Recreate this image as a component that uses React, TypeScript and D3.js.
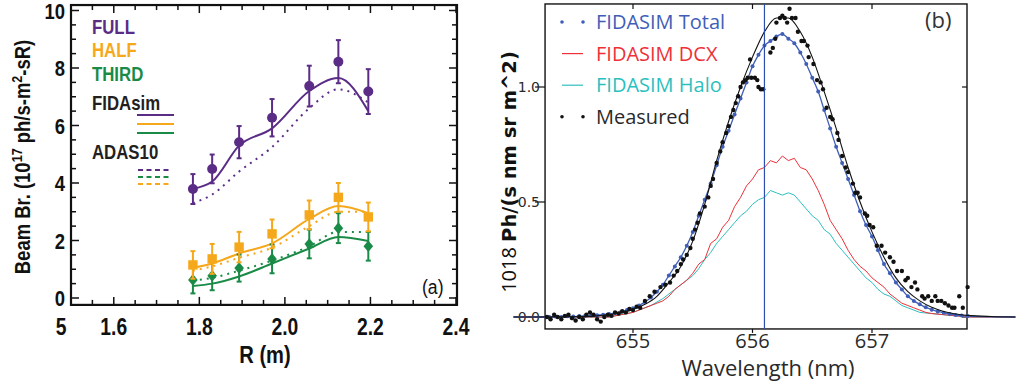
import * as d3 from 'd3';

// ---------- panel (a) data ----------
const R = [1.785, 1.83, 1.893, 1.97, 2.057, 2.125, 2.195];
const fullMeas = [3.79, 4.49, 5.42, 6.27, 7.37, 8.22, 7.18];
const fullErr = [0.52, 0.5, 0.56, 0.65, 0.71, 0.75, 0.78];
const fullFida = [3.8, 4.05, 5.3, 5.9, 7.2, 7.65, 6.5];
const fullAdas = [3.3, 3.6, 4.4, 5.25, 6.6, 7.26, 6.8];
const halfMeas = [1.15, 1.36, 1.77, 2.23, 2.89, 3.5, 2.82];
const halfErr = [0.48, 0.52, 0.53, 0.5, 0.5, 0.5, 0.5];
const halfFida = [1.05, 1.2, 1.55, 1.9, 2.75, 3.2, 2.95];
const halfAdas = [0.95, 1.1, 1.4, 1.75, 2.5, 3.0, 3.0];
const thirdMeas = [0.63, 0.77, 1.04, 1.36, 1.88, 2.43, 1.8];
const thirdErr = [0.47, 0.5, 0.47, 0.5, 0.5, 0.52, 0.5];
const thirdFida = [0.42, 0.5, 0.75, 1.2, 1.72, 2.12, 1.98];
const thirdAdas = [0.6, 0.7, 0.95, 1.3, 1.8, 2.3, 2.3];

const yTicksA = [0, 2, 4, 6, 8, 10];
const xTicksA = [1.5, 1.6, 1.8, 2.0, 2.2, 2.4];
const xTickLabelsA = ['5', '1.6', '1.8', '2.0', '2.2', '2.4'];

// ---------- panel (b) data: [wavelength nm, value] ----------
const fidaTotal: [number, number][] = [
  [654.0, 0], [654.3, 0], [654.35, 0.002], [654.4, 0], [654.45, 0.003], [654.5, 0.002], [654.55, 0.004],
  [654.6, 0.005], [654.65, 0.006], [654.7, 0.008], [654.75, 0.01], [654.8, 0.013], [654.85, 0.017],
  [654.9, 0.022], [654.95, 0.03], [655.0, 0.038], [655.05, 0.05], [655.1, 0.065], [655.15, 0.085],
  [655.2, 0.11], [655.25, 0.14], [655.3, 0.18], [655.35, 0.22], [655.4, 0.26], [655.45, 0.31],
  [655.5, 0.37], [655.55, 0.44], [655.6, 0.51], [655.65, 0.58], [655.7, 0.66], [655.75, 0.74],
  [655.8, 0.81], [655.85, 0.88], [655.9, 0.95], [655.95, 1.02], [656.0, 1.09], [656.05, 1.14],
  [656.1, 1.18], [656.15, 1.2], [656.2, 1.22], [656.25, 1.23], [656.3, 1.21], [656.35, 1.19],
  [656.4, 1.15], [656.45, 1.1], [656.5, 1.04], [656.55, 0.98], [656.6, 0.9], [656.65, 0.82],
  [656.7, 0.74], [656.75, 0.67], [656.8, 0.6], [656.85, 0.53], [656.9, 0.46], [656.95, 0.4],
  [657.0, 0.35], [657.05, 0.29], [657.1, 0.23], [657.15, 0.19], [657.2, 0.15], [657.25, 0.12],
  [657.3, 0.09], [657.35, 0.07], [657.4, 0.055], [657.45, 0.042], [657.5, 0.032], [657.55, 0.024],
  [657.6, 0.018], [657.65, 0.013], [657.7, 0.009], [657.75, 0.006], [657.8, 0.004], [658.2, 0],
];

const fidaDcx: [number, number][] = [
  [654.0, 0], [654.8, 0], [654.85, 0.005], [654.9, 0.01], [654.95, 0.015], [655.0, 0.02], [655.05, 0.03],
  [655.1, 0.04], [655.15, 0.05], [655.2, 0.06], [655.25, 0.07], [655.3, 0.09], [655.35, 0.12],
  [655.4, 0.14], [655.45, 0.16], [655.5, 0.19], [655.55, 0.23], [655.6, 0.25], [655.65, 0.32],
  [655.7, 0.34], [655.75, 0.39], [655.8, 0.42], [655.85, 0.48], [655.9, 0.52], [655.95, 0.57],
  [656.0, 0.6], [656.05, 0.64], [656.1, 0.65], [656.15, 0.68], [656.2, 0.67], [656.25, 0.7],
  [656.3, 0.68], [656.35, 0.69], [656.4, 0.65], [656.45, 0.64], [656.5, 0.6], [656.55, 0.55],
  [656.6, 0.49], [656.65, 0.42], [656.7, 0.38], [656.75, 0.34], [656.8, 0.29], [656.85, 0.25],
  [656.9, 0.22], [656.95, 0.2], [657.0, 0.17], [657.05, 0.15], [657.1, 0.13], [657.15, 0.1],
  [657.2, 0.08], [657.25, 0.06], [657.3, 0.05], [657.35, 0.04], [657.4, 0.03], [657.45, 0.02],
  [657.5, 0.015], [657.6, 0.01], [657.7, 0.005], [657.8, 0], [658.2, 0],
];

const fidaHalo: [number, number][] = [
  [654.0, 0], [654.8, 0], [654.9, 0.01], [655.0, 0.02], [655.05, 0.03], [655.1, 0.04], [655.15, 0.05],
  [655.2, 0.065], [655.25, 0.08], [655.3, 0.1], [655.35, 0.12], [655.4, 0.14], [655.45, 0.16],
  [655.5, 0.18], [655.55, 0.21], [655.6, 0.25], [655.65, 0.28], [655.7, 0.32], [655.75, 0.35],
  [655.8, 0.38], [655.85, 0.41], [655.9, 0.44], [655.95, 0.46], [656.0, 0.49], [656.05, 0.51],
  [656.1, 0.52], [656.15, 0.55], [656.2, 0.54], [656.25, 0.53], [656.3, 0.54], [656.35, 0.53],
  [656.4, 0.5], [656.45, 0.47], [656.5, 0.44], [656.55, 0.42], [656.6, 0.38], [656.65, 0.36],
  [656.7, 0.32], [656.75, 0.29], [656.8, 0.26], [656.85, 0.23], [656.9, 0.2], [656.95, 0.17],
  [657.0, 0.15], [657.05, 0.12], [657.1, 0.1], [657.15, 0.09], [657.2, 0.07], [657.25, 0.05],
  [657.3, 0.04], [657.4, 0.02], [657.5, 0.015], [657.6, 0.01], [657.7, 0.005], [657.8, 0], [658.2, 0],
];

const fitLine: [number, number][] = [
  [654.0, 0], [654.5, 0.001], [654.7, 0.005], [654.85, 0.014], [655.0, 0.033], [655.1, 0.055],
  [655.2, 0.09], [655.3, 0.15], [655.4, 0.22], [655.5, 0.33], [655.6, 0.49], [655.7, 0.68],
  [655.8, 0.85], [655.9, 1.0], [656.0, 1.13], [656.1, 1.24], [656.2, 1.3], [656.3, 1.3],
  [656.4, 1.24], [656.5, 1.13], [656.6, 0.98], [656.7, 0.82], [656.8, 0.65], [656.9, 0.5],
  [657.0, 0.37], [657.1, 0.26], [657.2, 0.17], [657.3, 0.11], [657.4, 0.07], [657.5, 0.042],
  [657.6, 0.024], [657.7, 0.013], [657.8, 0.007], [658.0, 0.002], [658.2, 0],
];

const measured: [number, number][] = [
  [654.28, 0.0], [654.31, -0.01], [654.34, 0.01], [654.37, 0.0], [654.4, -0.01], [654.43, 0.005],
  [654.46, 0.01], [654.49, -0.005], [654.52, -0.015], [654.55, 0.0], [654.58, -0.01], [654.61, 0.01],
  [654.64, 0.02], [654.67, 0.01], [654.7, -0.01], [654.73, -0.02], [654.76, 0.0], [654.79, 0.01],
  [654.82, 0.005], [654.85, 0.02], [654.88, 0.015], [654.91, 0.025], [654.94, 0.02], [654.97, 0.035],
  [655.0, 0.03], [655.03, 0.045], [655.06, 0.04], [655.1, 0.07], [655.14, 0.09], [655.18, 0.11],
  [655.23, 0.13], [655.27, 0.14], [655.31, 0.15], [655.34, 0.18], [655.37, 0.2], [655.4, 0.23],
  [655.42, 0.25], [655.45, 0.27], [655.48, 0.3], [655.5, 0.34], [655.52, 0.38], [655.54, 0.41],
  [655.56, 0.45], [655.6, 0.48], [655.63, 0.52], [655.65, 0.57], [655.67, 0.6], [655.7, 0.67],
  [655.73, 0.72], [655.75, 0.76], [655.78, 0.8], [655.8, 0.83], [655.82, 0.87], [655.84, 0.9],
  [655.86, 0.93], [655.88, 0.96], [655.9, 1.0], [655.92, 1.02], [655.94, 1.03], [655.96, 1.04],
  [655.98, 1.12], [655.99, 1.04], [656.02, 1.04], [656.04, 1.03], [656.05, 1.0], [656.07, 0.99],
  [656.09, 0.99], [656.15, 1.15], [656.17, 1.17], [656.19, 1.21], [656.2, 1.28], [656.23, 1.3],
  [656.25, 1.31], [656.27, 1.3], [656.29, 1.28], [656.31, 1.34], [656.33, 1.3], [656.36, 1.3],
  [656.38, 1.24], [656.41, 1.2], [656.43, 1.2], [656.46, 1.18], [656.47, 1.13], [656.51, 1.1],
  [656.54, 1.03], [656.57, 1.02], [656.59, 0.99], [656.62, 0.91], [656.65, 0.87], [656.67, 0.86],
  [656.71, 0.8], [656.72, 0.77], [656.75, 0.7], [656.78, 0.65], [656.8, 0.63], [656.84, 0.58],
  [656.86, 0.54], [656.88, 0.54], [656.9, 0.52], [656.94, 0.45], [656.96, 0.44], [656.98, 0.4],
  [657.01, 0.39], [657.04, 0.31], [657.08, 0.31], [657.11, 0.28], [657.15, 0.26], [657.18, 0.24],
  [657.21, 0.2], [657.25, 0.2], [657.28, 0.16], [657.3, 0.17], [657.33, 0.13], [657.36, 0.15],
  [657.38, 0.12], [657.42, 0.09], [657.44, 0.08], [657.47, 0.09], [657.5, 0.07], [657.53, 0.09],
  [657.55, 0.07], [657.58, 0.07], [657.61, 0.06], [657.64, 0.05], [657.67, 0.04], [657.69, 0.04],
  [657.73, 0.09], [657.76, 0.04], [657.8, 0.13],
];

const markerWavelength = 656.1;
const xTicksB = [655, 656, 657];
const yTicksB = [0, 0.5, 1.0];

const PURPLE = '#5b2c86';
const ORANGE = '#f6a81c';
const GREEN = '#1a8b47';
const BLUE = '#3f5eb8';
const RED = '#ee3138';
const CYAN = '#2cbfbf';

const BOLD_SANS = "'Liberation Sans', Arial, sans-serif";
const SANS = "'Open Sans', 'Noto Sans', sans-serif";
const DEJAVU = "'DejaVu Sans', sans-serif";
const SQUEEZE = 0.84;

// condensed bold text for panel (a): the original uses a narrow Helvetica
function NText({ x, y, anchor = 'start', size, fill = '#111', weight = 'bold', children }: any) {
  return (
    <text
      transform={`translate(${x},${y}) scale(${SQUEEZE},1)`}
      textAnchor={anchor}
      fontSize={size}
      fill={fill}
      fontWeight={weight}
      fontFamily={BOLD_SANS}
    >
      {children}
    </text>
  );
}

function PanelA() {
  const x = d3.scaleLinear().domain([1.5, 2.4]).range([71, 456]);
  const y = d3.scaleLinear().domain([0, 10]).range([298, 10.5]);
  const left = x(1.5);
  const right = x(2.4) + 1;
  const top = y(10.19);
  const bottom = y(-0.24);

  const solid = d3
    .line<number>()
    .x((_, i) => x(R[i]))
    .y((d) => y(d))
    .curve(d3.curveMonotoneX);

  const minorY = d3.range(0, 10.01, 0.5);
  const minorX = d3.range(1.5, 2.401, 0.05);

  const series = [
    { meas: thirdMeas, err: thirdErr, fida: thirdFida, adas: thirdAdas, color: GREEN, shape: 'diamond' },
    { meas: halfMeas, err: halfErr, fida: halfFida, adas: halfAdas, color: ORANGE, shape: 'square' },
    { meas: fullMeas, err: fullErr, fida: fullFida, adas: fullAdas, color: PURPLE, shape: 'circle' },
  ];

  return (
    <g>
      {/* ticks */}
      {minorY.map((v) => {
        const major = Math.abs(v % 2) < 1e-6;
        const len = major ? 8 : 5;
        return (
          <g key={'yt' + v} stroke="#111" strokeWidth={1.5}>
            <line x1={left} x2={left + len} y1={y(v)} y2={y(v)} />
            <line x1={right - len} x2={right} y1={y(v)} y2={y(v)} />
          </g>
        );
      })}
      {minorX.map((v) => {
        const tenths = v * 10;
        const major = Math.abs(tenths - Math.round(tenths)) < 1e-6 && Math.round(tenths) % 2 === 0;
        const len = major ? 8 : 5;
        return (
          <g key={'xt' + v} stroke="#111" strokeWidth={1.5}>
            <line x1={x(v)} x2={x(v)} y1={bottom} y2={bottom - len} />
            <line x1={x(v)} x2={x(v)} y1={top} y2={top + len} />
          </g>
        );
      })}
      <rect x={left} y={top} width={right - left} height={bottom - top} fill="none" stroke="#111" strokeWidth={2.2} />

      {yTicksA.map((v) => (
        <NText key={'yl' + v} x={left - 6} y={y(v) + 8} anchor="end" size={22}>
          {v}
        </NText>
      ))}
      {xTicksA.map((v, i) => (
        <NText key={'xl' + v} x={x(v) + (xTickLabelsA[i] === '5' ? -10 : 0)} y={335} anchor="middle" size={23}>
          {xTickLabelsA[i]}
        </NText>
      ))}
      <NText x={265} y={363} anchor="middle" size={24}>
        R (m)
      </NText>
      <text
        transform={`translate(30,157) rotate(-90) scale(${SQUEEZE},1)`}
        textAnchor="middle"
        fontSize={22}
        fontWeight="bold"
        fontFamily={BOLD_SANS}
        fill="#111"
      >
        Beam Br. (10
        <tspan fontSize={15} dy={-8}>17</tspan>
        <tspan dy={8}> ph/s-m</tspan>
        <tspan fontSize={15} dy={-8}>2</tspan>
        <tspan dy={8}>-sR)</tspan>
      </text>

      {/* model curves */}
      {series.map((s) => (
        <g key={'c' + s.color} fill="none" stroke={s.color}>
          <path d={solid(s.adas) ?? ''} strokeWidth={2} strokeDasharray="2 5" />
          <path d={solid(s.fida) ?? ''} strokeWidth={2} />
        </g>
      ))}

      {/* measurements */}
      {series.map((s) => (
        <g key={'m' + s.color} fill={s.color} stroke={s.color}>
          {s.meas.map((v, i) => {
            const cx = x(R[i]);
            const cy = y(v);
            const y1 = y(v + s.err[i]);
            const y2 = y(v - s.err[i]);
            return (
              <g key={i}>
                <line x1={cx} x2={cx} y1={y1} y2={y2} strokeWidth={2} />
                <line x1={cx - 2.5} x2={cx + 2.5} y1={y1} y2={y1} strokeWidth={2} />
                <line x1={cx - 2.5} x2={cx + 2.5} y1={y2} y2={y2} strokeWidth={2} />
                {s.shape === 'circle' && <circle cx={cx} cy={cy} r={5} stroke="none" />}
                {s.shape === 'square' && <rect x={cx - 4.7} y={cy - 4.7} width={9.4} height={9.4} stroke="none" />}
                {s.shape === 'diamond' && (
                  <path d={`M${cx},${cy - 5.8}L${cx + 4.8},${cy}L${cx},${cy + 5.8}L${cx - 4.8},${cy}Z`} stroke="none" />
                )}
              </g>
            );
          })}
        </g>
      ))}

      {/* legend */}
      <NText x={92} y={34} size={20} fill={PURPLE}>FULL</NText>
      <NText x={92} y={57} size={20} fill={ORANGE}>HALF</NText>
      <NText x={92} y={81} size={20} fill={GREEN}>THIRD</NText>
      <NText x={92} y={110} size={20} fill="#231f20">FIDAsim</NText>
      {[PURPLE, ORANGE, GREEN].map((c, i) => (
        <line key={'lf' + c} x1={137} x2={174} y1={115 + i * 9} y2={115 + i * 9} stroke={c} strokeWidth={2.2} />
      ))}
      <NText x={92} y={159} size={20} fill="#231f20">ADAS10</NText>
      {[PURPLE, GREEN, ORANGE].map((c, i) => (
        <line
          key={'la' + c}
          x1={138}
          x2={172}
          y1={170 + i * 7}
          y2={170 + i * 7}
          stroke={c}
          strokeWidth={2}
          strokeDasharray="5 3.5"
        />
      ))}
      <NText x={422} y={294} size={21} weight="normal">(a)</NText>
    </g>
  );
}

function PanelB() {
  const x = d3.scaleLinear().domain([655, 657]).range([633, 872]);
  const y = d3.scaleLinear().domain([0, 1]).range([317, 87]);
  const left = x(654.264);
  const right = x(657.795);
  const top = y(1.361);
  const bottom = y(-0.052);

  const line = d3
    .line<[number, number]>()
    .x((d) => x(d[0]))
    .y((d) => y(d[1]))
    .curve(d3.curveMonotoneX);
  const linear = d3
    .line<[number, number]>()
    .x((d) => x(d[0]))
    .y((d) => y(d[1]));

  const inFrame = (d: [number, number]) => d[0] >= 654.26 && d[0] <= 657.8;

  const legend = [
    { label: 'FIDASIM Total', color: BLUE, kind: 'dots' },
    { label: 'FIDASIM DCX', color: RED, kind: 'line' },
    { label: 'FIDASIM Halo', color: CYAN, kind: 'line' },
    { label: 'Measured', color: '#111', kind: 'dots' },
  ];

  return (
    <g>
      <rect x={left} y={top} width={right - left} height={bottom - top} fill="none" stroke="#111" strokeWidth={1.4} />
      {xTicksB.map((v) => (
        <g key={'xt' + v} stroke="#111" strokeWidth={1.2}>
          <line x1={x(v)} x2={x(v)} y1={bottom} y2={bottom + 4} />
          <line x1={x(v)} x2={x(v)} y1={top} y2={top + 5} />
        </g>
      ))}
      {yTicksB.map((v) => (
        <g key={'yt' + v} stroke="#111" strokeWidth={1.2}>
          <line x1={left - 10} x2={left} y1={y(v)} y2={y(v)} />
          <line x1={right - 5} x2={right} y1={y(v)} y2={y(v)} />
        </g>
      ))}
      {xTicksB.map((v) => (
        <text key={'xl' + v} x={x(v)} y={348} textAnchor="middle" fontFamily={SANS} fontSize={20} fill="#2a2a2a">
          {v}
        </text>
      ))}
      {yTicksB.map((v) => (
        <text key={'yl' + v} x={540} y={y(v)} dy="0.36em" textAnchor="end" fontFamily={DEJAVU} fontSize={14} fill="#2a2a2a">
          {d3.format('.1f')(v)}
        </text>
      ))}
      <text x={768} y={376} textAnchor="middle" fontFamily={SANS} fontSize={22} fill="#2a2a2a">
        Wavelength (nm)
      </text>
      <text transform="translate(516,172) rotate(-90)" textAnchor="middle" fill="#111">
        <tspan fontFamily={SANS} fontSize={20}>1018 </tspan>
        <tspan fontFamily={DEJAVU} fontWeight="bold" fontSize={19.5}>Ph/(s nm sr m^2)</tspan>
      </text>

      {/* spectra */}
      <path d={linear(fidaHalo) ?? ''} fill="none" stroke={CYAN} strokeWidth={1} />
      <path d={linear(fidaDcx) ?? ''} fill="none" stroke={RED} strokeWidth={1} />
      <path d={line(fidaTotal) ?? ''} fill="none" stroke={BLUE} strokeWidth={1.3} />
      {fidaTotal.filter(inFrame).map((d, i) => (
        <circle key={'tb' + i} cx={x(d[0])} cy={y(d[1])} r={2} fill={BLUE} />
      ))}
      <path d={line(fitLine) ?? ''} fill="none" stroke="#111" strokeWidth={1.1} />
      {measured.map((d, i) => (
        <circle key={'ms' + i} cx={x(d[0])} cy={y(d[1])} r={2.2} fill="#111" />
      ))}
      <line x1={x(markerWavelength)} x2={x(markerWavelength)} y1={top} y2={bottom} stroke="#2f4fb0" strokeWidth={1.2} />

      {/* legend */}
      {legend.map((l, i) => {
        const cy = 22 + i * 31.6;
        return (
          <g key={l.label}>
            {l.kind === 'dots' ? (
              <g fill={l.color}>
                <circle cx={562} cy={cy} r={1.8} />
                <circle cx={583} cy={cy} r={1.8} />
              </g>
            ) : (
              <line x1={562} x2={583} y1={cy} y2={cy} stroke={l.color} strokeWidth={1.2} />
            )}
            <text x={596} y={cy} dy="0.36em" fontFamily={SANS} fontSize={20} fill={l.color === '#111' ? '#2a2a2a' : l.color}>
              {l.label}
            </text>
          </g>
        );
      })}
      <text x={925} y={28} fontFamily={SANS} fontSize={22} fill="#333">(b)</text>
    </g>
  );
}

export default function App() {
  return (
    <svg
      width={1018}
      height={381}
      viewBox="0 0 1018 381"
      style={{ position: 'absolute', left: 0, top: 0, background: '#fff' }}
    >
      <rect width={1018} height={381} fill="#fff" />
      <PanelA />
      <PanelB />
    </svg>
  );
}
